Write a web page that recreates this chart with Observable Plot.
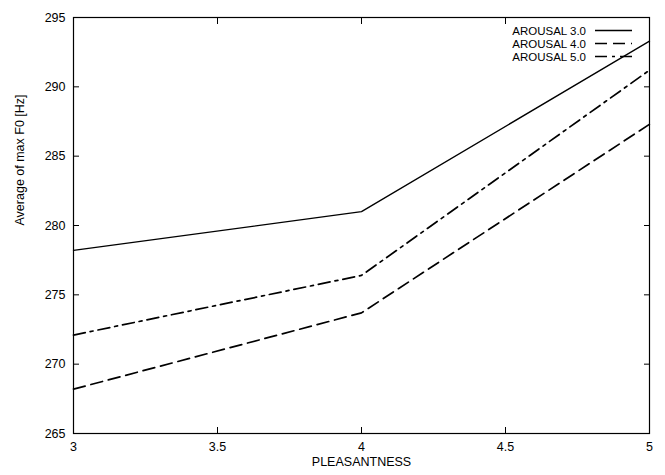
<!DOCTYPE html>
<html>
<head>
<meta charset="utf-8">
<script src="https://cdn.jsdelivr.net/npm/d3@7"></script>
<script src="https://cdn.jsdelivr.net/npm/@observablehq/plot@0.6"></script>
<style>
  html, body { margin: 0; padding: 0; background: #fff; }
  #wrap { position: relative; width: 665px; height: 475px; font-family: "Liberation Sans", Helvetica, Arial, sans-serif; }
  #legend { position: absolute; left: 0; top: 0; }
</style>
</head>
<body>
<div id="wrap"></div>
<script>
// ---- data ----
const pleasantness = [3, 4, 5];
const seriesLabels = ["AROUSAL 3.0", "AROUSAL 4.0", "AROUSAL 5.0"];
const arousal30 = [278.2, 281.0, 293.3];
const arousal40 = [268.2, 273.7, 287.3];
const arousal50 = [272.1, 276.4, 291.2];
const xTicks = [3, 3.5, 4, 4.5, 5];
const yTicks = [265, 270, 275, 280, 285, 290, 295];
const xTitle = "PLEASANTNESS";
const yTitle = "Average of max F0 [Hz]";

const seriesValues = [arousal30, arousal40, arousal50];
const dashes = [null, "12,6", "12,5,3,5"];
const widths = [1.3, 1.7, 1.7];

const rows = seriesLabels.map((name, i) =>
  pleasantness.map((x, j) => ({x, y: seriesValues[i][j], series: name}))
);

const font = "Liberation Sans, Helvetica, Arial, sans-serif";

const chart = Plot.plot({
  width: 665,
  height: 475,
  marginLeft: 73,
  marginRight: 16,
  marginTop: 17,
  marginBottom: 42,
  style: {fontFamily: font, fontSize: "12.5px", color: "#000", background: "#fff"},
  x: {domain: [3, 5], label: null},
  y: {domain: [265, 295], label: null},
  marks: [
    Plot.axisX(xTicks, {anchor: "bottom", tickSize: -6, tickPadding: 15, tickFormat: d => String(d), label: null, fontSize: 12.5}),
    Plot.axisX(xTicks, {anchor: "top", tickSize: -6, text: null, label: null}),
    Plot.axisY(yTicks, {anchor: "left", tickSize: -6, tickPadding: 14, tickFormat: d => String(d), label: null, fontSize: 12.5}),
    Plot.axisY(yTicks, {anchor: "right", tickSize: -6, text: null, label: null}),
    Plot.frame({stroke: "#000", strokeWidth: 1.2}),
    ...rows.map((r, i) => Plot.line(r, {
      x: "x", y: "y",
      stroke: "#000",
      strokeWidth: widths[i],
      strokeDasharray: dashes[i],
      strokeLinejoin: "miter"
    })),
    Plot.text([xTitle], {text: d => d, frameAnchor: "bottom", dy: 32, fontSize: 12.5}),
    Plot.text([yTitle], {text: d => d, frameAnchor: "left", dx: -54, rotate: -90, fontSize: 12.5})
  ]
});

const wrap = document.getElementById("wrap");
wrap.appendChild(chart);

// legend overlay (top-right, inside plot area)
const ns = "http://www.w3.org/2000/svg";
const leg = document.createElementNS(ns, "svg");
leg.setAttribute("id", "legend");
leg.setAttribute("width", 665);
leg.setAttribute("height", 80);
leg.style.position = "absolute";
leg.style.left = "0px";
leg.style.top = "0px";
const legY = [30.5, 43.5, 56.5];
seriesLabels.forEach((name, i) => {
  const t = document.createElementNS(ns, "text");
  t.setAttribute("x", 586);
  t.setAttribute("y", legY[i]);
  t.setAttribute("text-anchor", "end");
  t.setAttribute("dominant-baseline", "central");
  t.setAttribute("font-family", font);
  t.setAttribute("font-size", "11.5");
  t.textContent = name;
  leg.appendChild(t);
  const l = document.createElementNS(ns, "line");
  l.setAttribute("x1", 595);
  l.setAttribute("x2", 632);
  l.setAttribute("y1", legY[i]);
  l.setAttribute("y2", legY[i]);
  l.setAttribute("stroke", "#000");
  l.setAttribute("stroke-width", widths[i]);
  if (dashes[i]) l.setAttribute("stroke-dasharray", dashes[i]);
  leg.appendChild(l);
});
wrap.appendChild(leg);
</script>
</body>
</html>
